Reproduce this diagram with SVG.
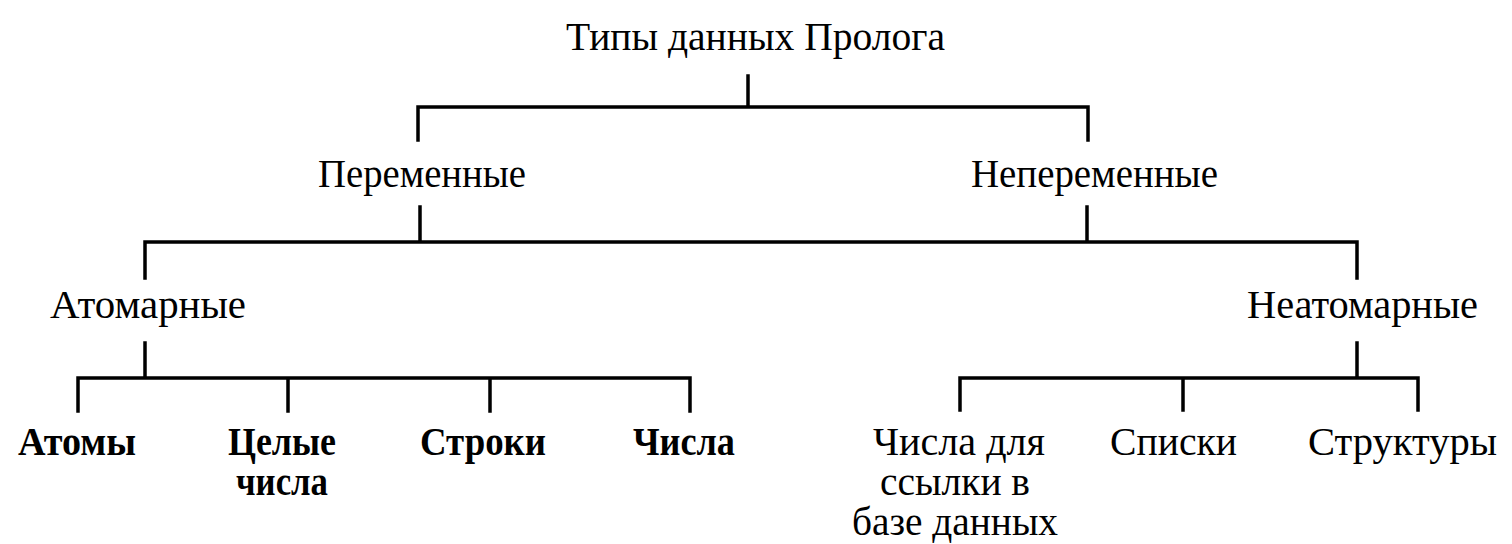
<svg xmlns="http://www.w3.org/2000/svg" width="1512" height="544" viewBox="0 0 1512 544">
<style>
.t{font-family:"Liberation Serif","Times New Roman",serif;font-size:40px;fill:#000}
.b{font-weight:bold}
.c{fill:none;stroke:#000;stroke-width:3.5;stroke-linecap:square}
</style>
<rect width="1512" height="544" fill="#fff"/>
<g id="connectors" class="c">
<path d="M748 76V107M418 140V107H1088V140"/>
<path d="M420 207V242M1087 207V242M145 278V242H1357V278"/>
<path d="M145 343V378M78 411V378H690V411M288 378V411M490 378V411"/>
<path d="M1357 343V378M960 410V378H1418V410M1183 378V410"/>
</g>
<g id="root"><text class="t" x="566" y="50" textLength="379" lengthAdjust="spacingAndGlyphs">Типы данных Пролога</text></g>
<g id="var"><text class="t" x="318" y="187" textLength="208" lengthAdjust="spacingAndGlyphs">Переменные</text></g>
<g id="nonvar"><text class="t" x="971" y="187" textLength="247" lengthAdjust="spacingAndGlyphs">Непеременные</text></g>
<g id="atomic"><text class="t" x="50" y="318" textLength="196" lengthAdjust="spacingAndGlyphs">Атомарные</text></g>
<g id="nonatomic"><text class="t" x="1247" y="318" textLength="231" lengthAdjust="spacingAndGlyphs">Неатомарные</text></g>
<g id="atoms"><text class="t b" x="18" y="455" textLength="118" lengthAdjust="spacingAndGlyphs">Атомы</text></g>
<g id="integers"><text class="t b" x="228" y="455" textLength="108" lengthAdjust="spacingAndGlyphs">Целые</text><text class="t b" x="236" y="495" textLength="92" lengthAdjust="spacingAndGlyphs">числа</text></g>
<g id="strings"><text class="t b" x="420" y="455" textLength="126" lengthAdjust="spacingAndGlyphs">Строки</text></g>
<g id="reals"><text class="t b" x="633" y="455" textLength="102" lengthAdjust="spacingAndGlyphs">Числа</text></g>
<g id="dbrefs"><text class="t" x="873" y="455" textLength="172" lengthAdjust="spacingAndGlyphs">Числа для</text><text class="t" x="880" y="495" textLength="150" lengthAdjust="spacingAndGlyphs">ссылки в</text><text class="t" x="852" y="535" textLength="206" lengthAdjust="spacingAndGlyphs">базе данных</text></g>
<g id="lists"><text class="t" x="1110" y="455" textLength="127" lengthAdjust="spacingAndGlyphs">Списки</text></g>
<g id="structs"><text class="t" x="1308" y="455" textLength="189" lengthAdjust="spacingAndGlyphs">Структуры</text></g>
</svg>
